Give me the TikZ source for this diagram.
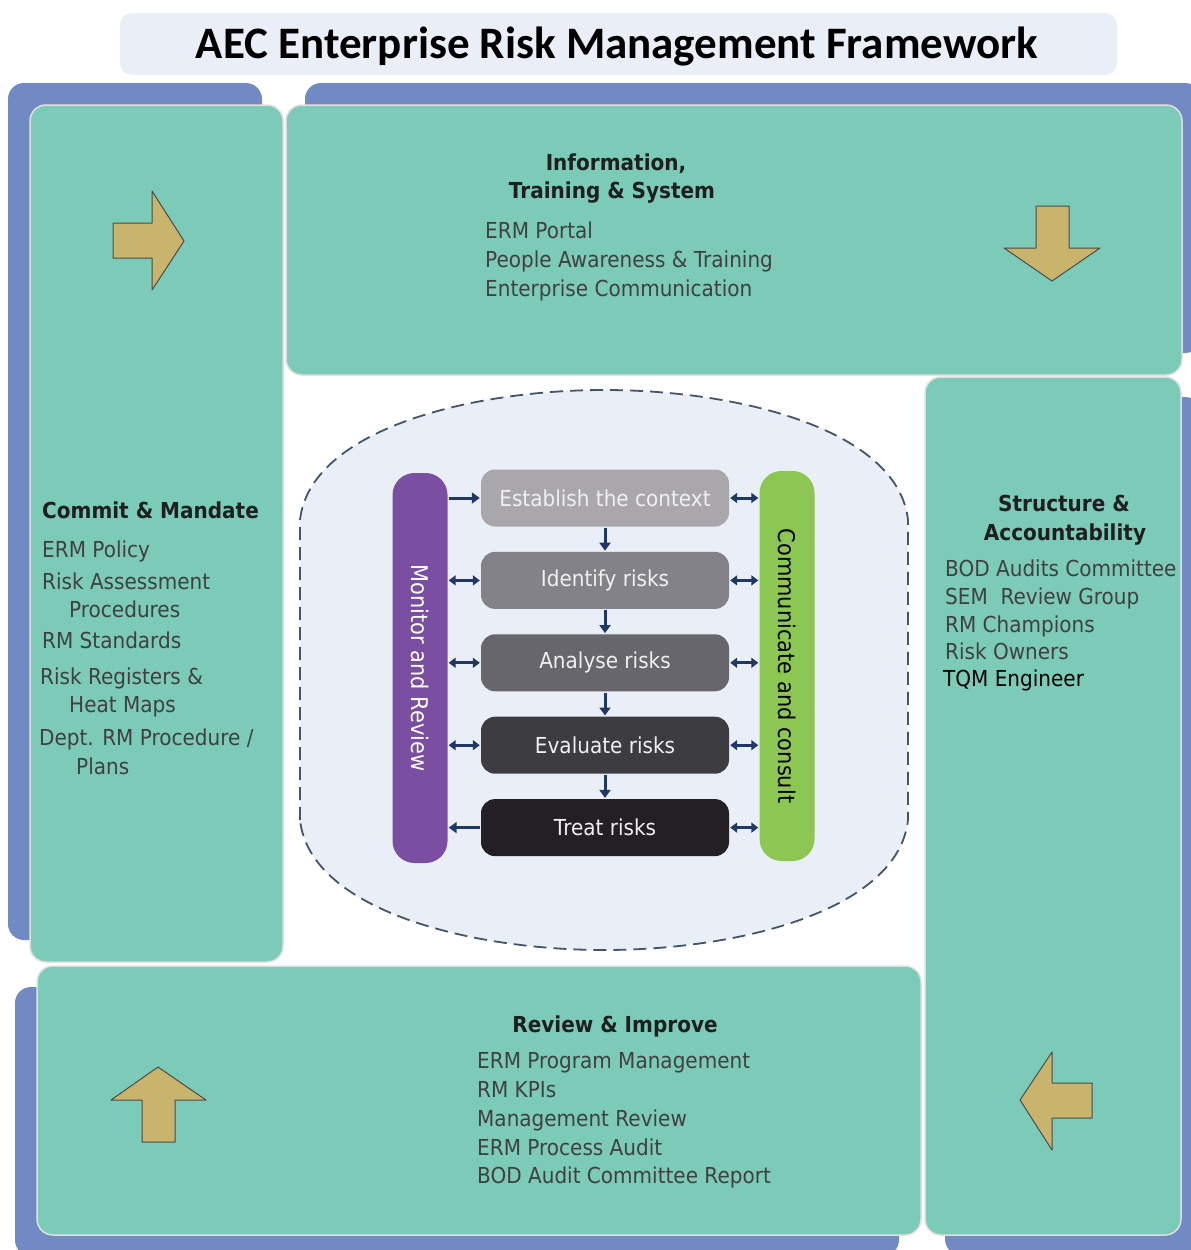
\documentclass[tikz,border=0pt]{standalone}
\usepackage{graphicx}
\usepackage{fontspec}
\setmainfont{DejaVu Sans}[FakeStretch=0.91]
\newfontfamily\titlefont{Carlito}
\usetikzlibrary{positioning,arrows.meta}
\definecolor{panelteal}{HTML}{7CCAB8}
\definecolor{shadowblue}{HTML}{718AC4}
\definecolor{arrowgold}{HTML}{C9B46D}
\definecolor{paleblue}{HTML}{EAEFF7}
\definecolor{flownavy}{HTML}{1F3864}
\definecolor{zoneline}{HTML}{44546A}
\definecolor{monitorpurple}{HTML}{7A4EA0}
\definecolor{consultgreen}{HTML}{8CC653}
\definecolor{stepA}{HTML}{A9A7AC}
\definecolor{stepB}{HTML}{848289}
\definecolor{stepC}{HTML}{67666C}
\definecolor{stepD}{HTML}{3D3D41}
\definecolor{stepE}{HTML}{231F24}
\tikzset{panel/.style={
  draw=gray!25,
  line width=1.5pt,
  fill=panelteal,
  rounded corners=16pt,
  },
  backing/.style={fill=shadowblue, rounded corners=16pt},
  bigarrow/.style={draw=gray!60!black, line width=1pt, fill=arrowgold, line join=round},
  heading/.style={font=\bfseries\fontsize{22}{26}\selectfont, text=black!88, anchor=base, inner sep=0pt},
  item/.style={font=\fontsize{22}{26}\selectfont, text=black!75, anchor=base west, inner sep=0pt},
  stepbox/.style={
  rounded corners=14pt,
  minimum width=248pt,
  minimum height=57pt,
  text=white!94!black,
  font=\fontsize{22}{24}\selectfont,
  },
  sidebar/.style={rounded corners=22pt, minimum width=55pt, minimum height=390pt, font=\fontsize{23}{24}\selectfont},
  linkarrow/.style={draw=flownavy, line width=3pt, shorten <=1pt, shorten >=1pt, -{Triangle[length=8pt,width=11pt]}},
  twoway/.style={linkarrow, {Triangle[length=7pt,width=10pt]}-{Triangle[length=7pt,width=10pt]}},
  }
\begin{document}
\begin{tikzpicture}[x=1pt, y=-1pt]
  \useasboundingbox (0,0) rectangle (1191,1250);
  % title
  \fill[paleblue, rounded corners=12pt] (120,13) rectangle (1117,75);
  \node[font=\titlefont\bfseries\fontsize{45}{50}\selectfont, anchor=base, inner sep=0pt] (title) at (617,58)
    {AEC Enterprise Risk Management Framework};

  % shadows, then the four panels
  \fill[backing] (8,83) rectangle (262,940);
  \fill[backing] (305,83) rectangle (1201,353);
  \fill[backing] (945,397) rectangle (1201,1255);
  \fill[backing] (15,987) rectangle (899,1256);
  \draw[panel] (30,105) rectangle (283,962);
  \draw[panel] (286,105) rectangle (1182,375);
  \draw[panel] (925,377) rectangle (1181,1235);
  \draw[panel] (37,966) rectangle (921,1235);

  % gold arrows
  \draw[bigarrow] (113,223) -- (152,223) -- (152,191) -- (184,241) -- (152,290) -- (152,258) -- (113,258) -- cycle;
  \draw[bigarrow] (1036,206) -- (1069,206) -- (1069,248) -- (1100,248) -- (1052,281) -- (1004,248) -- (1036,248) -- cycle;
  \draw[bigarrow] (1092,1083) -- (1052,1083) -- (1052,1052) -- (1020,1100) -- (1052,1150) -- (1052,1118) -- (1092,1118) -- cycle;
  \draw[bigarrow] (142,1142) -- (142,1100) -- (111,1100) -- (158,1067) -- (206,1100) -- (175,1100) -- (175,1142) -- cycle;

  % panel texts
  \node[heading] (info-h1) at (616,170) {Information,};
  \node[heading] (info-h2) at (612,198) {Training \& System};
  \foreach \y/\t in {238/ERM Portal, 267/People Awareness \& Training, 296/Enterprise Communication}
    \node[item] (info-\y) at (485,\y) {\t};

  \node[heading, anchor=base west] (commit-h) at (42,518) {Commit \& Mandate};
  \foreach \x/\y/\t in {42/557/ERM Policy, 42/589/Risk Assessment, 69/617/Procedures, 42/648/RM Standards,
      40/684/Risk Registers \&, 69/712/Heat Maps, 39/745/{Dept. RM Procedure /}, 76/774/Plans}
    \node[item] (commit-\y) at (\x,\y) {\t};

  \node[heading] (struct-h1) at (1064,511) {Structure \&};
  \node[heading] (struct-h2) at (1065,540) {Accountability};
  \foreach \y/\t in {576/BOD Audits Committee, 604/SEM~~Review Group, 632/RM Champions, 659/Risk Owners}
    \node[item] (struct-\y) at (945,\y) {\t};
  \node[item, text=black] (struct-686) at (943,686) {TQM Engineer};

  \node[heading] (review-h) at (615,1032) {Review \& Improve};
  \foreach \y/\t in {1068/ERM Program Management, 1097/RM KPIs, 1126/Management Review,
      1155/ERM Process Audit, 1183/BOD Audit Committee Report}
    \node[item] (review-\y) at (477,\y) {\t};

  % risk process zone
  \draw[fill=paleblue, draw=zoneline, line width=1.8pt, dash pattern=on 13pt off 7pt]
    (300,820) -- (300,520) .. controls (310,430) and (470,390) .. (604,390)
    .. controls (740,390) and (898,430) .. (908,520) -- (908,820)
    .. controls (898,910) and (740,950) .. (604,950)
    .. controls (470,950) and (310,910) .. (300,820) -- cycle;

  \node[stepbox, fill=stepA] (establish) at (605,498) {Establish the context};
  \node[stepbox, fill=stepB, below=25pt of establish] (identify) {Identify risks};
  \node[stepbox, fill=stepC, below=25pt of identify] (analyse) {Analyse risks};
  \node[stepbox, fill=stepD, below=25pt of analyse] (evaluate) {Evaluate risks};
  \node[stepbox, fill=stepE, below=25pt of evaluate] (treat) {Treat risks};

  \node[sidebar, fill=monitorpurple, text=white] (monitor) at (420,668) {\rotatebox{-90}{Monitor and Review}};
  \node[sidebar, fill=consultgreen, text=black] (consult) at (787,666) {\rotatebox{-90}{Communicate and consult}};

  \draw[linkarrow] (establish) -- (identify);
  \draw[linkarrow] (identify) -- (analyse);
  \draw[linkarrow] (analyse) -- (evaluate);
  \draw[linkarrow] (evaluate) -- (treat);

  \draw[linkarrow] (monitor.east |- establish) -- (establish.west);
  \foreach \n in {identify, analyse, evaluate}
    \draw[twoway] (monitor.east |- \n) -- (\n.west);
  \draw[linkarrow] (treat.west) -- (monitor.east |- treat);
  \foreach \n in {establish, identify, analyse, evaluate, treat}
    \draw[twoway] (\n.east) -- (consult.west |- \n);
\end{tikzpicture}
\end{document}
